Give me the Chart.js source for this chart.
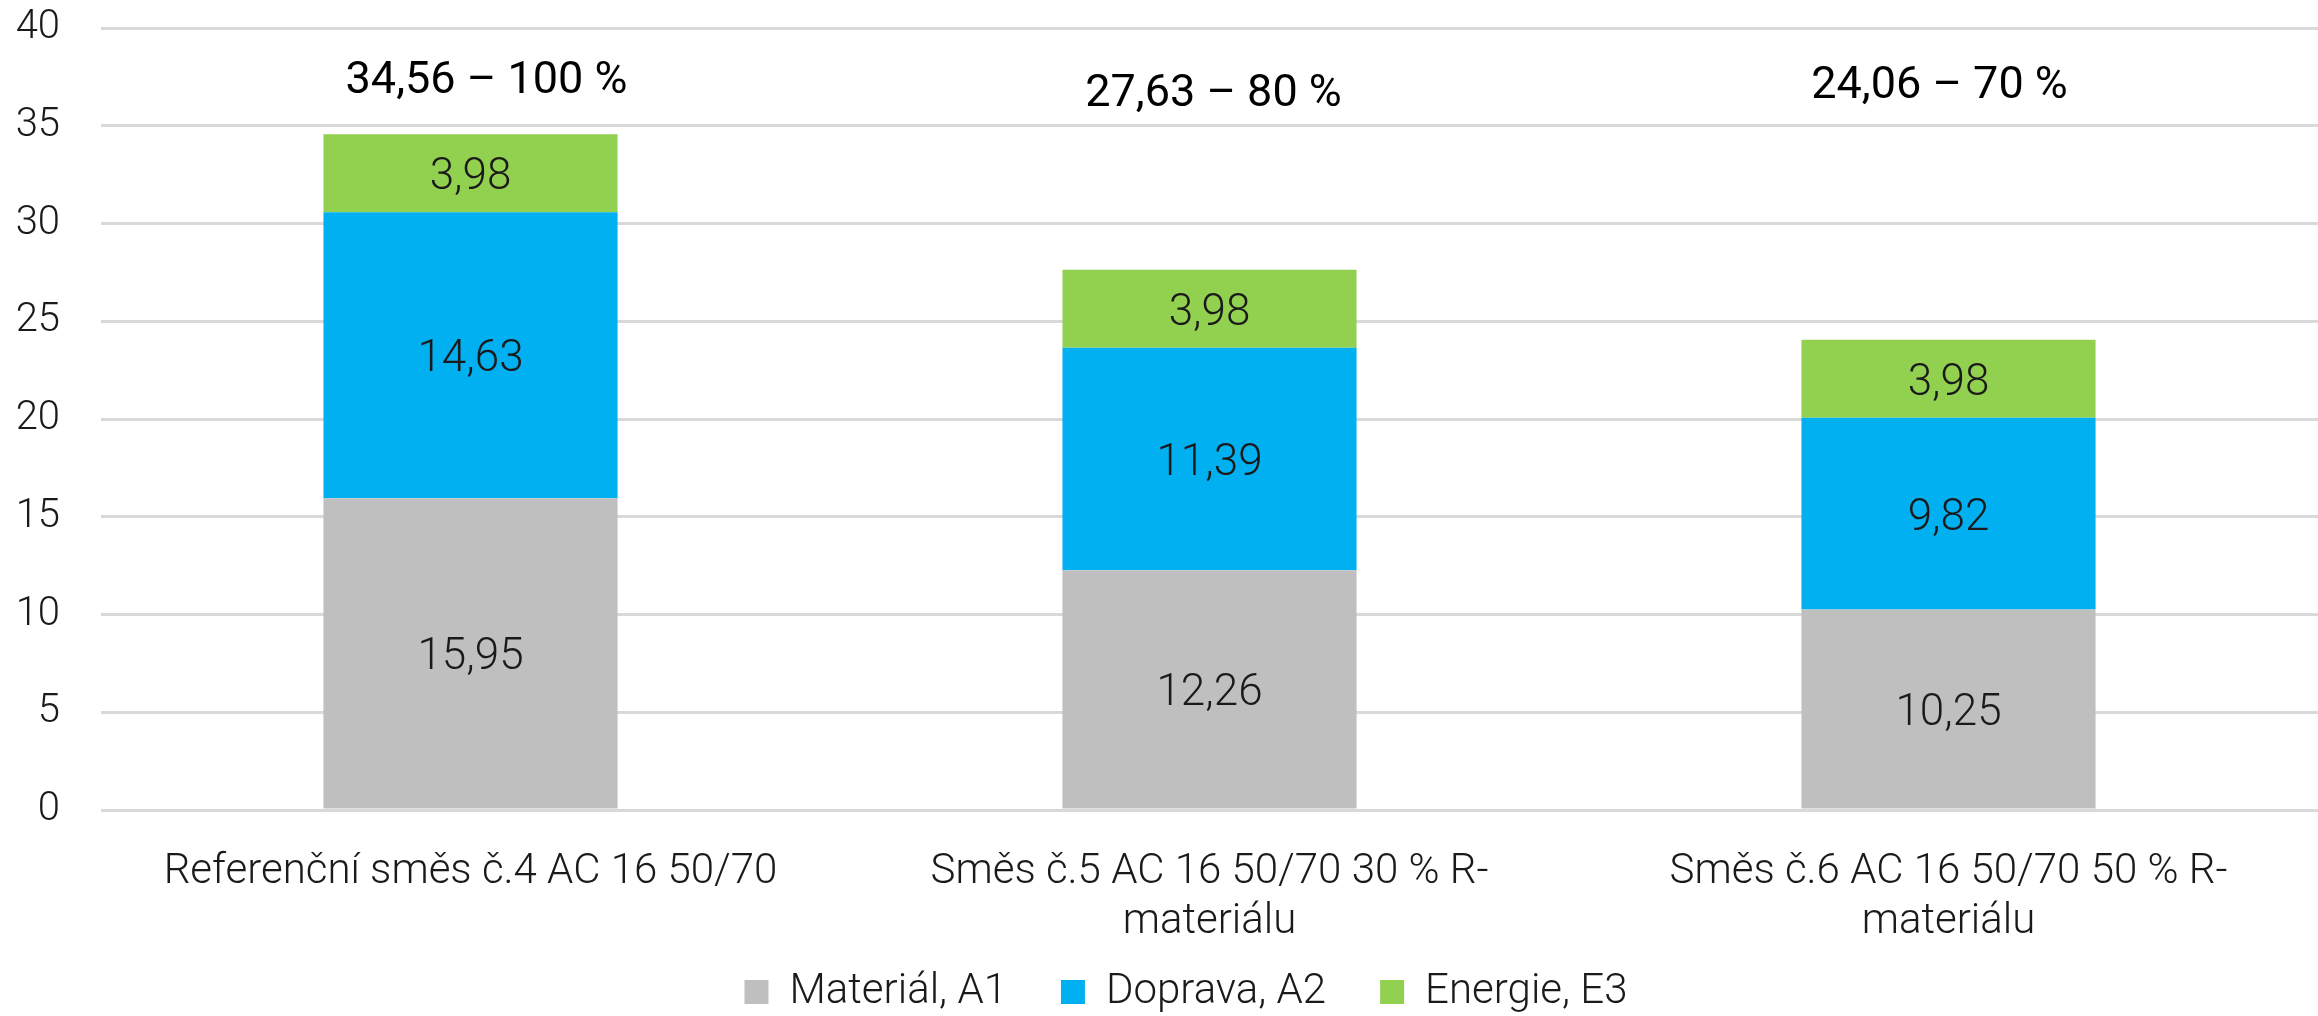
<!DOCTYPE html>
<html lang="cs">
<head>
<meta charset="utf-8">
<title>Emise směsí AC 16 50/70</title>
<script src="https://cdn.jsdelivr.net/npm/chart.js@4/dist/chart.umd.min.js"></script>
<style>
  html, body { margin: 0; padding: 0; background: #ffffff; }
  #wrap { width: 2318px; height: 1016px; }
</style>
</head>
<body>
<div id="wrap"><canvas id="chart" width="2318" height="1016"></canvas></div>
<script>
// Categories (mixtures) and stacked components
const categories = [
  "Referenční směs č.4 AC 16 50/70",
  ["Směs č.5 AC 16 50/70 30 % R-", "materiálu"],
  ["Směs č.6 AC 16 50/70 50 % R-", "materiálu"]
];
const seriesNames = ["Materiál, A1", "Doprava, A2", "Energie, E3"];
const material = [15.95, 12.26, 10.25];
const doprava = [14.63, 11.39, 9.82];
const energie = [3.98, 3.98, 3.98];
// Totals and their share of the reference mixture
const totals = [34.56, 27.63, 24.06];
const shares = [100, 80, 70];
// Value axis
const yMin = 0, yMax = 40, yStep = 5;

const FONT = "Roboto";
const TEXT = "#1a1a1a";
const fmt = v => v.toFixed(2).replace(".", ",");

// Let the two-line category labels run into the legend strip without clipping,
// and nudge the legend row slightly right.
const layoutTweaks = {
  id: "layoutTweaks",
  afterLayout(chart, args, opts) {
    chart.scales.x.bottom = chart.height;
    chart.legend.left += opts.legendShift;
    chart.legend.right += opts.legendShift;
  }
};

// Values written inside each stacked segment
const segmentLabels = {
  id: "segmentLabels",
  afterDatasetsDraw(chart, args, opts) {
    const ctx = chart.ctx;
    ctx.save();
    ctx.font = "300 44px " + FONT;
    ctx.fillStyle = TEXT;
    ctx.textAlign = "center";
    ctx.textBaseline = "middle";
    chart.data.datasets.forEach((ds, di) => {
      const meta = chart.getDatasetMeta(di);
      meta.data.forEach((bar, i) => {
        const p = bar.getProps(["x", "y", "base"], true);
        ctx.fillText(fmt(ds.data[i]), p.x, (p.y + p.base) / 2 + opts.dy);
      });
    });
    ctx.restore();
  }
};

// Total "value – share" captions above the bars
const totalLabels = {
  id: "totalLabels",
  afterDatasetsDraw(chart, args, opts) {
    const ctx = chart.ctx;
    const xs = chart.scales.x, ys = chart.scales.y;
    ctx.save();
    ctx.font = "400 45px " + FONT;
    ctx.fillStyle = "#000000";
    ctx.textAlign = "center";
    ctx.textBaseline = "middle";
    totals.forEach((t, i) => {
      const x = xs.getPixelForValue(i) + opts.shift[i];
      const y = ys.getPixelForValue(opts.levels[i]);
      ctx.fillText(fmt(t) + " \u2013 " + shares[i] + " %", x, y);
    });
    ctx.restore();
  }
};

new Chart(document.getElementById("chart"), {
  type: "bar",
  data: {
    labels: categories,
    datasets: [
      { label: seriesNames[0], data: material, backgroundColor: "#BFBFBF" },
      { label: seriesNames[1], data: doprava, backgroundColor: "#00B0F0" },
      { label: seriesNames[2], data: energie, backgroundColor: "#92D050" }
    ]
  },
  options: {
    responsive: false,
    animation: false,
    layout: { padding: { top: 28, right: 0, left: 0, bottom: -7 } },
    datasets: { bar: { categoryPercentage: 1, barPercentage: 0.398, borderWidth: 0 } },
    scales: {
      x: {
        stacked: true,
        grid: { display: false, drawTicks: false },
        border: { display: false },
        ticks: {
          color: TEXT,
          font: { family: FONT, size: 42, weight: 300, lineHeight: 1.2 },
          padding: 37,
          maxRotation: 0,
          autoSkip: false
        },
        afterFit(scale) { scale.height = 107; }
      },
      y: {
        stacked: true,
        min: yMin,
        max: yMax,
        grid: { color: "#D9D9D9", lineWidth: 3, drawTicks: false },
        border: { display: false },
        ticks: {
          stepSize: yStep,
          color: TEXT,
          font: { family: FONT, size: 40, weight: 300 },
          padding: 41
        },
        afterFit(scale) {
          scale.width = 101;
          scale.paddingTop = 0;
          scale.paddingBottom = 0;
        }
      }
    },
    plugins: {
      legend: {
        position: "bottom",
        labels: {
          color: TEXT,
          font: { family: FONT, size: 42, weight: 300 },
          boxWidth: 24,
          boxHeight: 24,
          padding: 54
        }
      },
      tooltip: { enabled: false },
      layoutTweaks: { legendShift: 27 },
      segmentLabels: { dy: 5 },
      totalLabels: { levels: [37.25, 36.6, 37.0], shift: [16, 4, -9] }
    }
  },
  plugins: [layoutTweaks, segmentLabels, totalLabels]
});
</script>
</body>
</html>
